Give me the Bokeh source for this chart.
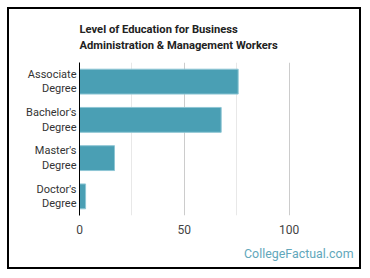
from bokeh.plotting import figure
from bokeh.models import FactorRange, Range1d, FixedTicker, Title, InlineStyleSheet
from bokeh.embed import file_html
from bokeh.resources import INLINE

categories = ["Associate\nDegree", "Bachelor's\nDegree", "Master's\nDegree", "Doctor's\nDegree"]
values = [75.7, 67.6, 16.7, 2.9]
tick_values = [0, 50, 100]
minor_values = [25, 75]
title_text = "Level of Education for Business\nAdministration & Management Workers"
watermark = "CollegeFactual.com"

factors = list(reversed(categories))
p = figure(width=370, height=278, output_backend="svg", toolbar_location=None,
           y_range=FactorRange(factors=factors, range_padding=0),
           x_range=Range1d(0, 125),
           min_border_left=79, min_border_right=29, min_border_top=62, min_border_bottom=63)
p.background_fill_color = "white"
p.border_fill_color = "white"
p.outline_line_color = None
p.stylesheets = [InlineStyleSheet(css=""":host { position: relative; }
:host::after { content: ''; position: absolute; left: 7px; top: 7px; width: 350px; height: 258px;
  border: 2px solid black; pointer-events: none; z-index: 100; }""")]

p.hbar(y=categories, right=values, height=0.65, left=0,
       fill_color="#4a9fb4", line_color="#8ec6d4", line_width=1)

p.xaxis.ticker = FixedTicker(ticks=tick_values, minor_ticks=minor_values)
p.xaxis.axis_line_color = None
p.xaxis.major_tick_line_color = None
p.xaxis.minor_tick_line_color = None
p.xaxis.major_tick_out = 0
p.xaxis.minor_tick_out = 0
p.xaxis.major_label_text_font = "Roboto"
p.xaxis.major_label_text_font_size = "12px"
p.xaxis.major_label_text_color = "#444444"
p.xaxis.major_label_standoff = 9

p.yaxis.axis_line_color = "black"
p.yaxis.major_tick_line_color = None
p.yaxis.minor_tick_line_color = None
p.yaxis.major_tick_out = 0
p.yaxis.minor_tick_out = 0
p.yaxis.major_label_text_font = "Roboto"
p.yaxis.major_label_text_font_size = "11px"
p.yaxis.major_label_text_color = "#333333"
p.yaxis.major_label_text_line_height = 1.1
p.yaxis.major_label_standoff = 3

p.ygrid.grid_line_color = None
p.xgrid.grid_line_color = "#cccccc"
p.xgrid.minor_grid_line_color = "#e8e8e8"

t = Title(text=title_text, align="left", text_font="Roboto", text_font_style="bold",
          text_font_size="11.2px", text_color="#222222", standoff=21, text_line_height=1.25)
p.add_layout(t, "above")

w = Title(text=watermark, align="right", offset=-12, text_font="Roboto", text_font_style="normal",
          text_font_size="12.4px", text_color="#62a7bb", standoff=14)
p.add_layout(w, "below")

open("out.html", "w").write(file_html(p, INLINE))
